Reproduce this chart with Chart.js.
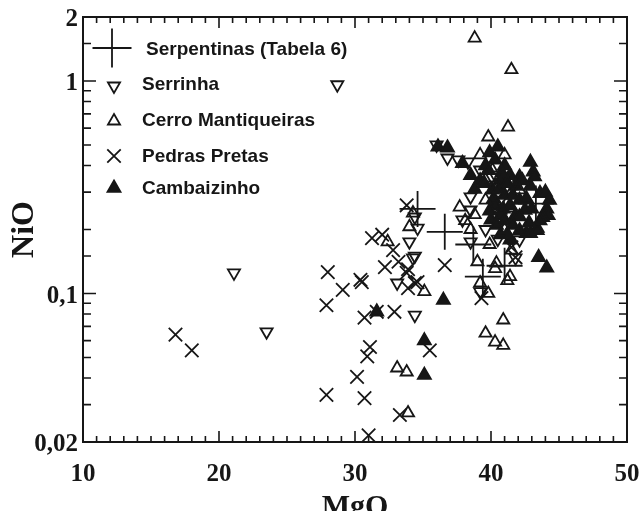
<!DOCTYPE html>
<html>
<head>
<meta charset="utf-8">
<script src="https://cdn.jsdelivr.net/npm/chart.js@4.4.1/dist/chart.umd.min.js"></script>
<style>
    html, body { margin: 0; padding: 0; background: #fff; }
    #wrap { width: 640px; height: 511px; }
</style>
</head>
<body>
<div id="wrap"><canvas id="myChart"></canvas></div>
<script>
// values (MgO wt%, NiO wt%)
const serpentinasMgO = [34.6, 36.6, 38.7, 39.4, 41.0, 43.3];
const serpentinasNiO = [0.25, 0.195, 0.17, 0.12, 0.135, 0.265];

const serrinhaMgO = [21.1, 23.5, 28.7, 34.0, 34.26, 34.4, 33.1, 34.4, 34.6, 34.4, 36.0, 36.8, 37.6, 38.3, 38.5,
    38.5, 37.9, 39.2, 38.5, 40.0, 40.7, 41.4, 39.6, 41.8, 40.3, 39.2, 41.0, 42.1, 40.5];
const serrinhaNiO = [0.125, 0.066, 0.96, 0.175, 0.147, 0.15, 0.112, 0.079, 0.203, 0.229, 0.50, 0.434, 0.425, 0.416, 0.285,
    0.247, 0.222, 0.102, 0.175, 0.324, 0.275, 0.234, 0.2, 0.147, 0.361, 0.381, 0.307, 0.179, 0.18];

const cerroMgO = [38.8, 41.5, 41.25, 39.8, 37.7, 38.1, 40.4, 39.2, 41.4, 41.2, 40.3, 40.9, 39.6, 40.3, 40.9, 35.1,
    33.1, 33.8, 33.9, 34.0, 32.4, 34.26, 39.2, 40.1, 40.7, 39.6, 41.0, 41.5, 38.8, 39.9, 42.1, 40.3, 39.0, 39.8,
    38.5, 41.0, 39.6];
const cerroNiO = [1.59, 1.13, 0.607, 0.545, 0.255, 0.22, 0.139, 0.112, 0.12, 0.115, 0.131, 0.075, 0.065, 0.059, 0.057, 0.102,
    0.0446, 0.0427, 0.0274, 0.206, 0.175, 0.239, 0.449, 0.381, 0.247, 0.275, 0.2, 0.16, 0.235, 0.17, 0.307, 0.324, 0.141, 0.1,
    0.2, 0.449, 0.342];

const pedrasMgO = [16.8, 18.0, 28.0, 27.9, 27.9, 29.1, 30.4, 30.5, 31.25, 32.0, 32.8, 32.2, 33.2, 33.9, 34.4, 33.9, 33.8,
    36.6, 30.7, 32.9, 31.6, 31.1, 30.9, 30.15, 30.7, 33.3, 31.0, 35.5, 39.3, 33.8, 34.6, 41.5, 41.8];
const pedrasNiO = [0.064, 0.054, 0.126, 0.088, 0.0333, 0.104, 0.116, 0.113, 0.182, 0.189, 0.16, 0.133, 0.141, 0.13, 0.112, 0.106, 0.26,
    0.136, 0.077, 0.082, 0.082, 0.056, 0.0506, 0.0405, 0.0322, 0.0268, 0.0215, 0.054, 0.095, 0.125, 0.113, 0.165, 0.148];

const cambaizinhoMgO = [31.6, 36.5, 35.1, 35.1, 36.1, 36.8, 37.9, 39.9, 40.5, 42.9, 43.1, 42.1, 43.6, 44.1, 44.2, 43.8,
    43.4, 42.6, 43.5, 44.1, 42.1, 42.9, 43.4, 39.6, 40.3, 41.0, 41.4, 40.7, 40.1, 41.0, 41.8, 40.3, 41.4, 40.7, 41.8,
    40.0, 41.0, 42.1, 42.5, 42.9, 38.5, 39.2, 38.8, 43.2, 44.0, 44.3, 41.4, 40.7, 42.1,
    39.8, 40.2, 40.6, 41.2, 41.6, 42.3, 40.9, 41.6, 40.4, 39.9, 42.6, 43.0, 41.2, 39.5, 40.8, 43.6, 42.8];
const cambaizinhoNiO = [0.082, 0.093, 0.06, 0.0413, 0.49, 0.485, 0.41, 0.46, 0.49, 0.415, 0.374, 0.353, 0.296, 0.25, 0.233, 0.228,
    0.203, 0.192, 0.148, 0.132, 0.198, 0.192, 0.198, 0.40, 0.425, 0.40, 0.36, 0.342, 0.307, 0.29, 0.32, 0.26, 0.26, 0.233, 0.233,
    0.222, 0.22, 0.275, 0.247, 0.32, 0.36, 0.34, 0.31, 0.355, 0.30, 0.275, 0.179, 0.189, 0.23,
    0.38, 0.28, 0.31, 0.33, 0.29, 0.34, 0.25, 0.21, 0.21, 0.245, 0.28, 0.25, 0.19, 0.33, 0.37, 0.22, 0.215];

const xLabelTicks = [10, 20, 30, 40, 50];
const yLabelTicks = [0.02, 0.1, 1, 2];

const INK = '#161616';
const SERIF = '"Liberation Serif", "Times New Roman", serif';
const SANS = '"Liberation Sans", Arial, sans-serif';

function toPoints(xs, ys) {
    return xs.map(function (x, i) {
        return { x: x, y: ys[i] };
    });
}

const series = [
    { label: 'Serpentinas (Tabela 6)', x: serpentinasMgO, y: serpentinasNiO, style: 'cross', radius: 18, rotation: 0, filled: false, legendRadius: 19.5 },
    { label: 'Serrinha', x: serrinhaMgO, y: serrinhaNiO, style: 'triangle', radius: 7, rotation: 180, filled: false, legendRadius: 7 },
    { label: 'Cerro Mantiqueiras', x: cerroMgO, y: cerroNiO, style: 'triangle', radius: 7, rotation: 0, filled: false, legendRadius: 7 },
    { label: 'Pedras Pretas', x: pedrasMgO, y: pedrasNiO, style: 'crossRot', radius: 9.5, rotation: 0, filled: false, legendRadius: 9.5 },
    { label: 'Cambaizinho', x: cambaizinhoMgO, y: cambaizinhoNiO, style: 'triangle', radius: 7.5, rotation: 0, filled: true, legendRadius: 7.5 },
];

const datasets = series.map(function (s) {
    return {
        label: s.label,
        data: toPoints(s.x, s.y),
        pointStyle: s.style,
        pointRadius: s.radius,
        pointHoverRadius: s.radius,
        pointRotation: s.rotation,
        pointBorderWidth: 1.8,
        borderColor: INK,
        backgroundColor: s.filled ? INK : 'rgba(0,0,0,0)',
    };
});

function drawSymbol(ctx, s, x, y) {
    const r = s.legendRadius;
    const rad = s.rotation * Math.PI / 180;
    ctx.beginPath();
    if (s.style === 'triangle') {
        for (let k = 0; k < 3; k++) {
            const a = rad + k * 2 * Math.PI / 3;
            const px = x + Math.sin(a) * r;
            const py = y - Math.cos(a) * r;
            if (k === 0) ctx.moveTo(px, py); else ctx.lineTo(px, py);
        }
        ctx.closePath();
        if (s.filled) ctx.fill();
    } else if (s.style === 'cross') {
        ctx.moveTo(x - r, y); ctx.lineTo(x + r, y);
        ctx.moveTo(x, y - r); ctx.lineTo(x, y + r);
    } else {
        const d = r * Math.SQRT1_2;
        ctx.moveTo(x - d, y - d); ctx.lineTo(x + d, y + d);
        ctx.moveTo(x + d, y - d); ctx.lineTo(x - d, y + d);
    }
    ctx.stroke();
}

// legend sits inside the plot, top left
const legendRows = [48, 86, 121, 156, 188];
const insideLegend = {
    id: 'insideLegend',
    afterDraw: function (chart) {
        const ctx = chart.ctx;
        ctx.save();
        ctx.strokeStyle = INK;
        ctx.fillStyle = INK;
        ctx.lineWidth = 1.8;
        series.forEach(function (s, i) {
            drawSymbol(ctx, s, s.style === 'cross' ? 112 : 114, legendRows[i]);
        });
        ctx.font = 'bold 19px ' + SANS;
        ctx.textBaseline = 'middle';
        ctx.textAlign = 'left';
        const textRows = [50, 85, 121, 157, 189];
        series.forEach(function (s, i) {
            ctx.fillText(s.label, i === 0 ? 146 : 142, textRows[i]);
        });
        ctx.restore();
    }
};

// box frame with inward ticks on all four sides
const frameTicks = {
    id: 'frameTicks',
    afterDatasetsDraw: function (chart) {
        const ctx = chart.ctx;
        const area = chart.chartArea;
        const xs = chart.scales.x;
        const ys = chart.scales.y;
        ctx.save();
        ctx.strokeStyle = INK;
        ctx.lineWidth = 2;
        ctx.strokeRect(area.left, area.top, area.right - area.left, area.bottom - area.top);
        ctx.lineWidth = 1.6;
        ctx.beginPath();
        xs.ticks.forEach(function (t) {
            const px = xs.getPixelForValue(t.value);
            const len = Math.abs(t.value % 10) < 1e-6 ? 11 : 6;
            ctx.moveTo(px, area.bottom); ctx.lineTo(px, area.bottom - len);
            ctx.moveTo(px, area.top); ctx.lineTo(px, area.top + len);
        });
        ys.ticks.forEach(function (t) {
            const py = ys.getPixelForValue(t.value);
            const lg = Math.log10(t.value);
            const len = Math.abs(lg - Math.round(lg)) < 1e-6 ? 13 : 8;
            ctx.moveTo(area.left, py); ctx.lineTo(area.left + len, py);
            ctx.moveTo(area.right, py); ctx.lineTo(area.right - len, py);
        });
        ctx.stroke();
        ctx.restore();
    }
};

const ctx = document.getElementById('myChart').getContext('2d');

new Chart(ctx, {
    type: 'scatter',
    data: { datasets: datasets },
    plugins: [frameTicks, insideLegend],
    options: {
        responsive: true,
        maintainAspectRatio: false,
        animation: false,
        layout: {
            autoPadding: false,
            padding: { top: 17, right: 13, left: 0, bottom: 0 },
        },
        plugins: {
            legend: { display: false },
            tooltip: { enabled: false },
        },
        scales: {
            x: {
                type: 'linear',
                min: 10,
                max: 50,
                afterFit: function (scale) {
                    scale.height = 69;
                    scale.paddingLeft = 0;
                    scale.paddingRight = 0;
                },
                grid: { display: false, drawTicks: false },
                border: { display: false },
                ticks: {
                    stepSize: 1,
                    autoSkip: false,
                    maxRotation: 0,
                    padding: 18,
                    color: INK,
                    font: { family: SERIF, size: 25, weight: 'bold' },
                    callback: function (value) {
                        return xLabelTicks.indexOf(value) >= 0 ? String(value) : '';
                    },
                },
                title: {
                    display: true,
                    text: 'MgO',
                    color: INK,
                    padding: { top: 0, bottom: -14 },
                    font: { family: SERIF, size: 30, weight: 'bold' },
                },
            },
            y: {
                type: 'logarithmic',
                min: 0.02,
                max: 2,
                afterFit: function (scale) {
                    scale.width = 83;
                    scale.paddingTop = 0;
                    scale.paddingBottom = 0;
                },
                grid: { display: false, drawTicks: false },
                border: { display: false },
                ticks: {
                    autoSkip: false,
                    padding: 5,
                    labelOffset: 3,
                    color: INK,
                    font: { family: SERIF, size: 25, weight: 'bold' },
                    callback: function (value) {
                        const hit = yLabelTicks.find(function (t) { return Math.abs(t - value) < 1e-9; });
                        return hit === undefined ? '' : String(hit).replace('.', ',');
                    },
                },
                title: {
                    display: true,
                    text: 'NiO',
                    color: INK,
                    padding: { top: 6, bottom: 0 },
                    font: { family: SERIF, size: 32, weight: 'bold' },
                },
            },
        },
    },
});
</script>
</body>
</html>
